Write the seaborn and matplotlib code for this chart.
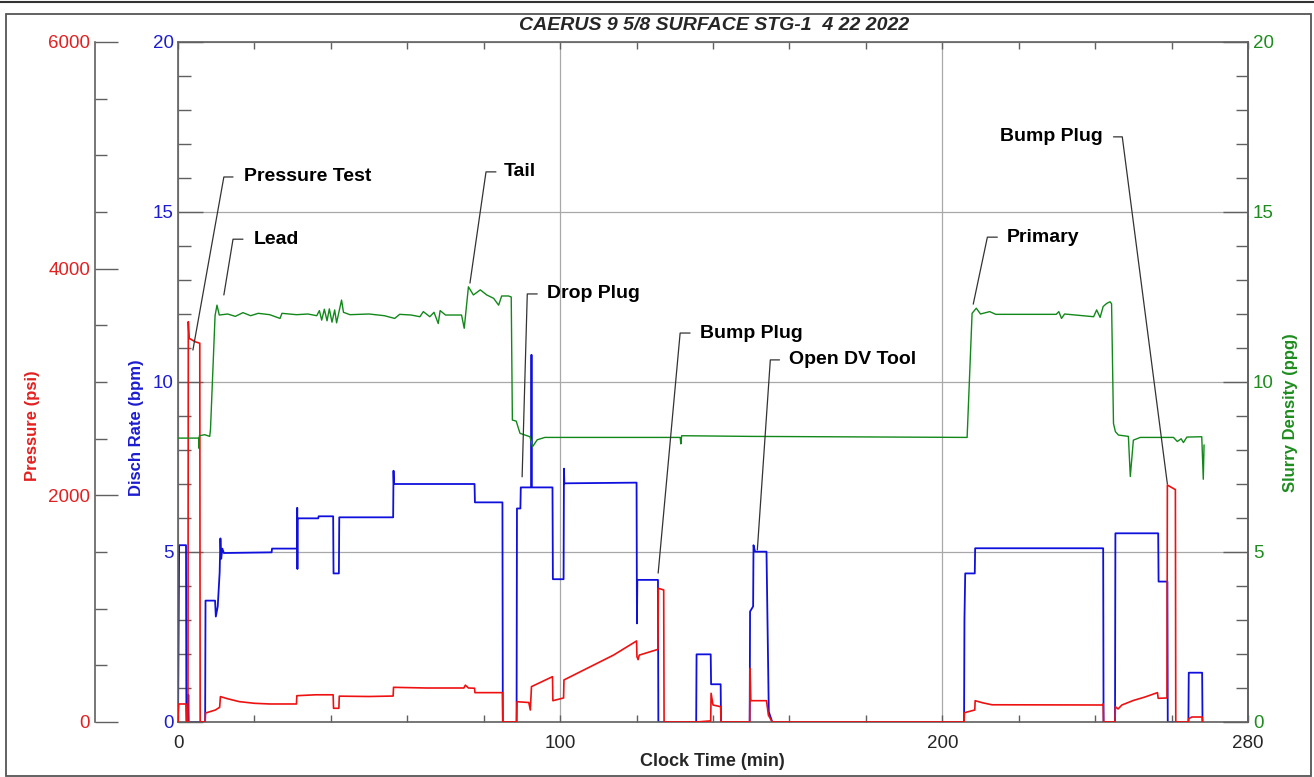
import matplotlib
matplotlib.use("Agg")
import matplotlib.pyplot as plt
from matplotlib.ticker import MultipleLocator
from matplotlib.patches import Rectangle
from matplotlib.lines import Line2D
import seaborn as sns
import numpy as np

# ---- data: (clock time min, value) ----
RATE_POINTS = [  # Disch Rate (bpm)
    (0, 0), (0.3, 5.2), (2.1, 5.2), (2.2, 0), (2.6, 0), (2.7, 0.8), (2.8, 0),
    (7.1, 0), (7.2, 3.57), (9.7, 3.57), (9.9, 3.1), (10.4, 3.4), (10.9, 4.4),
    (11.1, 5.4), (11.3, 4.8), (11.6, 5.1), (12.0, 4.97), (24.5, 4.99), (24.6, 5.1),
    (31.1, 5.1), (31.2, 6.3), (31.25, 4.5), (31.3, 5.99), (36.7, 5.99), (36.8, 6.05),
    (40.6, 6.05), (40.7, 4.37), (42.1, 4.37), (42.2, 6.02), (56.3, 6.02), (56.4, 7.39),
    (56.5, 7.0), (77.6, 7.0), (77.7, 6.46), (84.9, 6.46), (85.0, 0), (88.6, 0),
    (88.7, 6.28), (89.6, 6.28), (89.7, 6.9), (92.4, 6.9), (92.5, 10.8), (92.6, 6.9),
    (98.0, 6.9), (98.1, 4.2), (100.9, 4.2), (101.0, 7.45), (101.1, 7.02), (120.0, 7.04),
    (120.1, 2.9), (120.2, 4.18), (125.6, 4.18), (125.7, 0), (135.6, 0), (135.7, 1.99),
    (139.4, 1.99), (139.5, 1.11), (142.0, 1.11), (142.1, 0), (149.6, 0), (149.7, 3.25),
    (150.5, 3.4), (150.6, 5.2), (151.0, 5.01), (154.0, 5.01), (154.6, 0.3), (155.5, 0),
    (205.7, 0), (205.8, 3.0), (206.0, 4.37), (208.5, 4.37), (208.6, 5.11), (242.1, 5.11),
    (242.2, 0), (245.2, 0), (245.3, 5.55), (256.5, 5.55), (256.6, 4.13), (258.9, 4.13),
    (259.0, 0), (264.4, 0), (264.5, 1.45), (268.0, 1.45), (268.1, 0),
]

PRESSURE_POINTS = [  # Pressure (psi)
    (0, 0), (0.2, 159), (2.1, 159), (2.3, 0), (2.6, 0), (2.7, 3532), (2.9, 3386),
    (4.5, 3355), (5.7, 3342), (5.8, 0), (7.1, 0), (7.2, 79), (9.8, 106), (10.9, 130),
    (11.1, 224), (13, 205), (16, 180), (20, 165), (24, 159), (31.0, 159), (31.1, 232),
    (36, 240), (40.6, 240), (40.7, 121), (42.1, 121), (42.2, 228), (50, 225), (56.3, 229),
    (56.4, 306), (65, 300), (74.8, 300), (75.2, 325), (76, 300), (77.6, 298), (77.7, 259),
    (84.9, 259), (85.0, 0), (88.6, 0), (88.7, 179), (91.8, 172), (92.2, 106), (92.5, 312),
    (98.0, 400), (98.1, 188), (100.9, 212), (101.0, 371), (114, 591), (120.0, 715),
    (120.1, 576), (120.4, 550), (120.7, 590), (125.6, 641), (125.7, 1180), (127.1, 1165),
    (127.2, 0), (135.7, 0), (139.4, 10), (139.5, 253), (140.0, 150), (142.0, 135),
    (142.1, 0), (149.6, 0), (149.7, 474), (149.9, 188), (154.0, 188), (154.5, 60),
    (155.5, 0), (205.7, 0), (205.8, 82), (208.5, 106), (208.6, 188), (210.5, 170),
    (213, 152), (242, 150), (242.1, 160), (242.2, 0), (245.2, 0), (245.3, 135),
    (246, 115), (247, 150), (250, 190), (253, 220), (256.3, 259), (256.5, 209),
    (258.8, 212), (258.9, 2091), (261.0, 2050), (261.1, 0), (264.4, 0), (264.5, 30),
    (265.3, 44), (268.0, 44), (268.1, 0),
]

DENSITY_POINTS = [  # Slurry Density (ppg)
    (0, 8.35), (5.4, 8.35), (5.5, 8.05), (5.6, 8.42), (7, 8.45), (8.3, 8.4), (8.5, 8.6),
    (9.7, 11.95), (10.2, 12.26), (10.8, 11.97), (13, 12.0), (15, 11.93), (17, 12.04),
    (19, 11.95), (21, 12.02), (24, 11.98), (26.7, 11.87), (27.2, 12.02), (31, 11.98),
    (34, 12.0), (36.3, 11.95), (37, 12.1), (37.6, 11.82), (38.3, 12.14), (39, 11.8),
    (39.6, 12.15), (40.3, 11.76), (41, 12.12), (41.5, 11.74), (42, 12.0), (42.8, 12.41),
    (43.3, 12.05), (45, 11.98), (50, 12.0), (54, 11.95), (56.7, 11.87), (58, 11.99),
    (61, 11.97), (63.3, 11.92), (64.2, 12.07), (65.9, 11.92), (67, 12.05), (68.1, 11.72),
    (68.6, 12.1), (70, 11.97), (74.2, 11.97), (74.9, 11.58), (76.0, 12.8), (77.3, 12.56),
    (79.1, 12.71), (80.8, 12.56), (82.6, 12.46), (83.9, 12.26), (84.7, 12.53),
    (86.5, 12.53), (87.2, 12.5), (87.5, 8.88), (88.5, 8.85), (89.5, 8.49), (92.1, 8.39),
    (92.8, 8.1), (94, 8.3), (96, 8.37), (131.4, 8.37), (131.6, 8.18), (131.8, 8.42),
    (150, 8.4), (206.5, 8.37), (207.8, 12.02), (208.9, 12.17), (210, 12.0), (212.4, 12.07),
    (214, 11.99), (229.8, 11.99), (230.5, 12.07), (231.2, 11.87), (232, 12.0),
    (239.6, 11.92), (240.4, 12.12), (241.3, 11.9), (242.1, 12.22), (243.0, 12.31),
    (243.9, 12.36), (244.3, 12.3), (244.8, 8.78), (245.3, 8.54), (246.1, 8.44),
    (248.7, 8.4), (249.2, 7.22), (250.0, 8.29), (251.8, 8.37), (260.5, 8.37),
    (261.5, 8.25), (262.5, 8.33), (263.1, 8.22), (264, 8.38), (267.9, 8.39),
    (268.3, 7.14), (268.5, 8.15),
]

# annotations: label, text x, leader path (time, rate-scale y), alignment
EVENTS = [
    ("Pressure Test", 17.3, [(14.4, 16.03), (12.0, 16.03), (3.9, 10.94)], "left"),
    ("Lead", 19.9, [(17.0, 14.2), (14.4, 14.2), (12.0, 12.56)], "left"),
    ("Tail", 85.3, [(83.2, 16.18), (80.6, 16.18), (76.4, 12.91)], "left"),
    ("Drop Plug", 96.6, [(94.0, 12.59), (91.4, 12.59), (90.05, 7.21)], "left"),
    ("Bump Plug", 136.6, [(134.0, 11.44), (131.4, 11.44), (125.65, 4.38)], "left"),
    ("Open DV Tool", 159.9, [(157.4, 10.65), (155.0, 10.65), (151.6, 5.06)], "left"),
    ("Primary", 217.0, [(214.4, 14.26), (211.8, 14.26), (208.1, 12.29)], "left"),
    ("Bump Plug", 241.9, [(244.8, 17.21), (247.1, 17.21), (258.9, 7.0)], "right"),
]

TITLE = "CAERUS 9 5/8 SURFACE STG-1  4 22 2022"

RED, BLUE, GREEN = "#ee1111", "#1010dd", "#12881a"
RED_T, BLUE_T, GREEN_T = "#e32020", "#1c1cd0", "#1e8c1e"
SPINE = "#606060"

sns.set_style("white")
plt.rcParams['font.family'] = ['Liberation Sans', 'DejaVu Sans']

fig = plt.figure(figsize=(13.14, 7.77), dpi=100)
ax = fig.add_axes([178 / 1314, 55 / 777, 1070 / 1314, 680 / 777])
ax_p = ax.twinx()
ax_d = ax.twinx()

rt, rv = zip(*RATE_POINTS)
pt, pv = zip(*PRESSURE_POINTS)
dt, dv = zip(*DENSITY_POINTS)

sns.lineplot(x=np.array(rt), y=np.array(rv), ax=ax, color=BLUE, linewidth=1.3,
             estimator=None, sort=False)
sns.lineplot(x=np.array(pt), y=np.array(pv), ax=ax_p, color=RED, linewidth=1.2,
             estimator=None, sort=False)
sns.lineplot(x=np.array(dt), y=np.array(dv), ax=ax_d, color=GREEN, linewidth=1.0,
             estimator=None, sort=False)

for label, tx, path, ha in EVENTS:
    xs, ys = zip(*path)
    ax_d.plot(xs, ys, color="#333333", linewidth=0.9)
    ax_d.text(tx, path[0][1], label, ha=ha, va="center", fontsize=14,
              fontweight="bold", color="black")

# main axes (rate)
ax.set_xlim(0, 280)
ax.set_ylim(0, 20)
ax.set_xticks([0, 100, 200, 280])
ax.xaxis.set_minor_locator(MultipleLocator(20))
ax.set_yticks([0, 5, 10, 15, 20])
ax.yaxis.set_minor_locator(MultipleLocator(1))
ax.grid(True, which="major", color="#a8a8a8", linewidth=0.9)
ax.set_axisbelow(True)
ax.tick_params(axis="x", which="both", direction="in", top=True, bottom=True,
               length=5, width=1, color=SPINE, labelsize=13.5, pad=9)
ax.tick_params(axis="y", which="major", direction="in", left=True, right=False,
               length=18, width=1, color=SPINE, labelcolor=BLUE_T, labelsize=13.5, pad=3)
ax.tick_params(axis="y", which="minor", direction="in", left=True, right=False,
               length=9, width=1, color=SPINE)
ax.set_xlabel("")
ax.set_ylabel("")
for s in ax.spines.values():
    s.set_color(SPINE)
    s.set_linewidth(1.2)

# pressure axis, offset to the left
ax_p.set_ylim(0, 6000)
ax_p.yaxis.tick_left()
ax_p.spines["left"].set_position(("axes", (95 - 178) / 1070))
ax_p.spines["left"].set_visible(True)
for k in ["right", "top", "bottom"]:
    ax_p.spines[k].set_visible(False)
ax_p.spines["left"].set_color(SPINE)
ax_p.spines["left"].set_linewidth(1.2)
ax_p.set_yticks([0, 2000, 4000, 6000])
ax_p.yaxis.set_minor_locator(MultipleLocator(500))
ax_p.tick_params(axis="y", which="major", direction="in", length=16.5, width=1,
                 color=SPINE, labelcolor=RED_T, labelsize=13.5, pad=3.5)
ax_p.tick_params(axis="y", which="minor", direction="in", length=8.5, width=1, color=SPINE)
ax_p.set_ylabel("")

# density axis on the right
ax_d.set_ylim(0, 20)
ax_d.set_xlim(0, 280)
ax_d.set_yticks([0, 5, 10, 15, 20])
ax_d.yaxis.set_minor_locator(MultipleLocator(1))
ax_d.tick_params(axis="y", which="major", direction="in", right=True, left=False,
                 length=18, width=1, color=SPINE, labelcolor=GREEN_T, labelsize=13.5, pad=3.5)
ax_d.tick_params(axis="y", which="minor", direction="in", right=True, left=False,
                 length=9, width=1, color=SPINE)
ax_d.set_ylabel("")
for k in ["left", "top", "bottom"]:
    ax_d.spines[k].set_visible(False)
ax_d.spines["right"].set_color(SPINE)
ax_d.spines["right"].set_linewidth(1.2)

# labels and title
fig.text(32 / 1314, 1 - 426 / 777, "Pressure (psi)", rotation=90, ha="center", va="center",
         fontsize=12, fontweight="bold", color=RED_T)
fig.text(137 / 1314, 1 - 428 / 777, "Disch Rate (bpm)", rotation=90, ha="center", va="center",
         fontsize=12, fontweight="bold", color=BLUE_T)
fig.text(1290 / 1314, 1 - 413 / 777, "Slurry Density (ppg)", rotation=90, ha="center",
         va="center", fontsize=12, fontweight="bold", color=GREEN_T)
fig.text(712 / 1314, 1 - 761 / 777, "Clock Time (min)", ha="center", va="center",
         fontsize=13, fontweight="bold")
fig.text(714 / 1314, 1 - 26 / 777, TITLE, ha="center", va="center", fontsize=14,
         fontweight="bold", fontstyle="italic")

# outer frame
fig.add_artist(Rectangle((6 / 1314, 1 / 777), 1305 / 1314, 762 / 777, transform=fig.transFigure,
                         fill=False, edgecolor="#555555", linewidth=1.3))
fig.add_artist(Line2D([0, 1], [1 - 1.5 / 777, 1 - 1.5 / 777], transform=fig.transFigure,
                      color="#333333", linewidth=1.5))

fig.savefig("out.png", dpi=100)
